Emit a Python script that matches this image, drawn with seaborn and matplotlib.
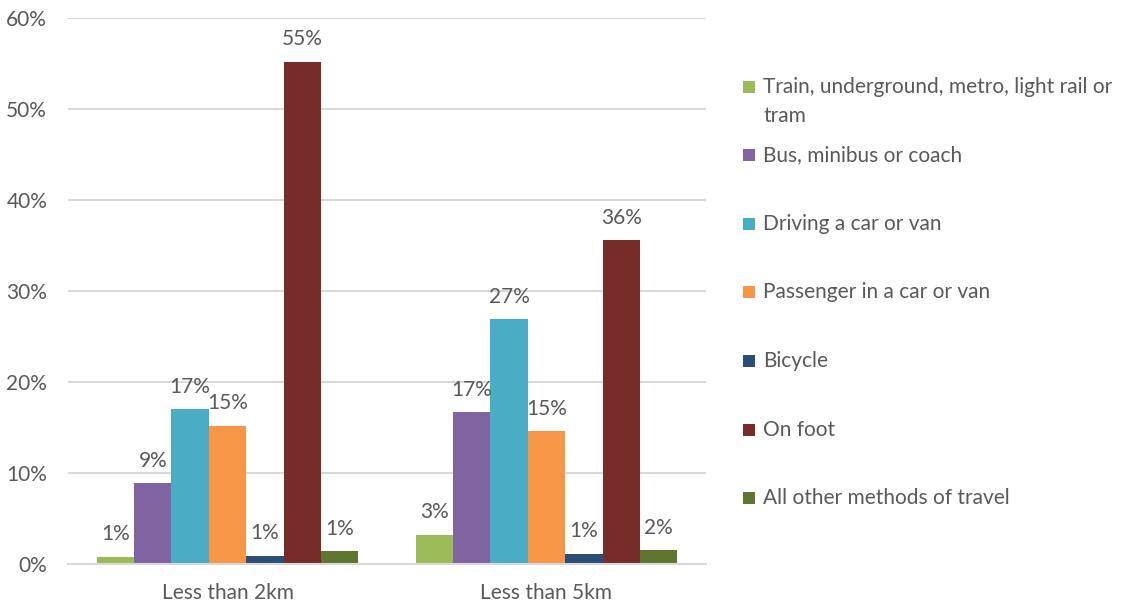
import matplotlib
matplotlib.use("Agg")
import matplotlib.pyplot as plt
import matplotlib.patches as mpatches
import seaborn as sns
import pandas as pd

categories = ["Less than 2km", "Less than 5km"]
modes = [
    "Train, underground, metro, light rail or\ntram",
    "Bus, minibus or coach",
    "Driving a car or van",
    "Passenger in a car or van",
    "Bicycle",
    "On foot",
    "All other methods of travel",
]
train = [0.8, 3.2]
bus = [8.9, 16.7]
driving = [17.0, 26.9]
passenger = [15.2, 14.6]
bicycle = [0.9, 1.1]
on_foot = [55.2, 35.6]
other = [1.4, 1.5]
yticks = [0, 10, 20, 30, 40, 50, 60]

colors = ["#9BBB59", "#8064A2", "#4BACC6", "#F79646", "#2C4D75", "#772C2A", "#5F7530"]

series = [train, bus, driving, passenger, bicycle, on_foot, other]
rows = []
for m, vals in zip(modes, series):
    for c, v in zip(categories, vals):
        rows.append({"category": c, "mode": m, "value": v})
df = pd.DataFrame(rows)

sns.set_theme(style="white")
plt.rcParams["font.family"] = ["Lato", "DejaVu Sans"]
text_color = "#595959"
fs = 15

fig = plt.figure(figsize=(11.21, 6.02), dpi=100)
ax = fig.add_axes([68 / 1121, 1 - 564 / 602, (706 - 68) / 1121, (564 - 18) / 602])

sns.barplot(data=df, x="category", y="value", hue="mode", hue_order=modes,
            order=categories, palette=colors, width=0.82, gap=0,
            saturation=1, ax=ax, legend=False, edgecolor="none", linewidth=0)

for cont in ax.containers:
    ax.bar_label(cont, labels=[f"{v:.0f}%" for v in cont.datavalues],
                 padding=9, fontsize=fs, color=text_color)

ax.set_ylim(0, 60)
ax.set_xlim(-0.5, 1.5)
ax.set_yticks(yticks)
ax.set_yticklabels([f"{t}%" for t in yticks])
ax.yaxis.grid(True, color="#D9D9D9", linewidth=1.5)
ax.set_axisbelow(True)
for s in ["top", "right", "left"]:
    ax.spines[s].set_visible(False)
ax.spines["bottom"].set_color("#D9D9D9")
ax.spines["bottom"].set_linewidth(1.5)
ax.tick_params(axis="both", length=0, labelsize=fs, labelcolor=text_color)
ax.tick_params(axis="y", pad=15)
ax.tick_params(axis="x", pad=14)
ax.set_xlabel("")
ax.set_ylabel("")

# legend drawn manually
legend_y = [87, 155, 224, 292, 361, 430, 498]
for m, c, y in zip(modes, colors, legend_y):
    fig.patches.append(mpatches.Rectangle((743 / 1121, 1 - (y + 6) / 602), 12 / 1121, 12 / 602,
                                          transform=fig.transFigure, facecolor=c, edgecolor="none"))
    fig.text(763 / 1121, 1 - (y - 10) / 602, m, fontsize=fs, color=text_color,
             va="top", ha="left", linespacing=1.55)

fig.savefig("out.png", dpi=100)
